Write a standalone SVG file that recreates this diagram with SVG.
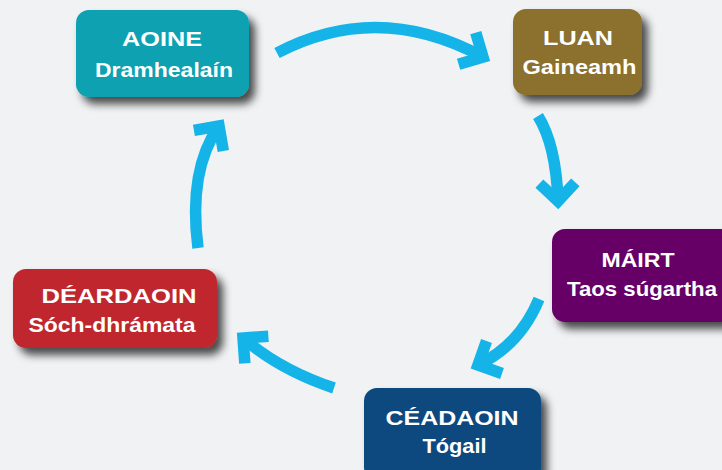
<svg xmlns="http://www.w3.org/2000/svg" width="722" height="470" viewBox="0 0 722 470">
<defs>
<filter id="sh" x="-20%" y="-20%" width="150%" height="160%">
<feDropShadow dx="6" dy="7" stdDeviation="4" flood-color="#000" flood-opacity="0.7"/>
</filter>
<marker id="head" markerUnits="userSpaceOnUse" orient="auto" markerWidth="60" markerHeight="60" refX="0" refY="0" viewBox="-30 -30 60 60" overflow="visible">
<path d="M-18,-18 L0,0 L-18,18" fill="none" stroke="#14B4E8" stroke-width="11.5" stroke-linejoin="miter" stroke-miterlimit="4"/>
</marker>
<style>
.box{filter:url(#sh)}
.t{font-family:"Liberation Sans",Arial,sans-serif;font-weight:bold;font-size:21px;fill:#fff;text-anchor:middle}
.arr{fill:none;stroke:#14B4E8;stroke-width:11.5;marker-end:url(#head)}
</style>
</defs>
<rect width="722" height="470" fill="#F1F2F4"/>
<g id="connectors">
<path class="arr" d="M277,53 Q378,0 483,57"/>
<path class="arr" d="M538,116 Q556,145 558,201"/>
<path class="arr" d="M539,299 Q520,345 478,365"/>
<path class="arr" d="M334,388 Q280,370 243,338"/>
<path class="arr" d="M198,248 Q188,170 219,126"/>
</g>
<g id="aoine">
<rect class="box" x="76" y="10" width="173" height="87" rx="13" fill="#0AA1B1"/>
<text class="t" x="162" y="46" textLength="80" lengthAdjust="spacingAndGlyphs">AOINE</text>
<text class="t" x="164" y="76.5" textLength="138" lengthAdjust="spacingAndGlyphs">Dramhealaín</text>
</g>
<g id="luan">
<rect class="box" x="513" y="9" width="129" height="86" rx="13" fill="#8B6F2F"/>
<text class="t" x="578" y="45" textLength="70" lengthAdjust="spacingAndGlyphs">LUAN</text>
<text class="t" x="579.5" y="74" textLength="114" lengthAdjust="spacingAndGlyphs">Gaineamh</text>
</g>
<g id="mairt">
<rect class="box" x="552" y="229" width="182" height="93" rx="13" fill="#660066"/>
<text class="t" x="638" y="267" textLength="73" lengthAdjust="spacingAndGlyphs">MÁIRT</text>
<text class="t" x="642" y="296" textLength="150" lengthAdjust="spacingAndGlyphs">Taos súgartha</text>
</g>
<g id="ceadaoin">
<rect class="box" x="364" y="388" width="177" height="92" rx="13" fill="#074A7F"/>
<text class="t" x="452" y="425" textLength="133" lengthAdjust="spacingAndGlyphs">CÉADAOIN</text>
<text class="t" x="454.5" y="453" textLength="64" lengthAdjust="spacingAndGlyphs">Tógail</text>
</g>
<g id="deardaoin">
<rect class="box" x="13" y="269" width="204" height="79" rx="13" fill="#C0272D"/>
<text class="t" x="119" y="303" textLength="155" lengthAdjust="spacingAndGlyphs">DÉARDAOIN</text>
<text class="t" x="112" y="332" textLength="167" lengthAdjust="spacingAndGlyphs">Sóch-dhrámata</text>
</g>
</svg>
